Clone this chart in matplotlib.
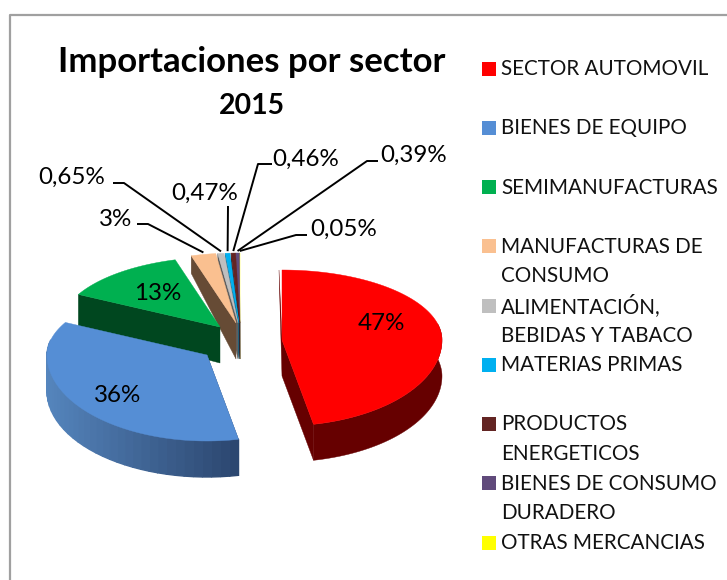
import numpy as np
import matplotlib
matplotlib.use('Agg')
import matplotlib.pyplot as plt
from matplotlib.colors import to_rgb
from matplotlib.patches import Rectangle

plt.rcParams['font.family'] = ['Lato', 'DejaVu Sans']

# datos
sectores = ['SECTOR AUTOMOVIL', 'BIENES DE EQUIPO', 'SEMIMANUFACTURAS',
            'MANUFACTURAS DE\nCONSUMO', 'ALIMENTACIÓN,\nBEBIDAS Y TABACO',
            'MATERIAS PRIMAS', 'PRODUCTOS\nENERGETICOS',
            'BIENES DE CONSUMO\nDURADERO', 'OTRAS MERCANCIAS']
valores = [46.9, 35.9, 12.8, 2.5, 0.65, 0.47, 0.46, 0.39, 0.05]
etiquetas = ['47%', '36%', '13%', '3%', '0,65%', '0,47%', '0,46%', '0,39%', '0,05%']

colores = ['#ff0000', '#558ed5', '#00b050', '#fac090', '#bfbfbf',
           '#00b0f0', '#632523', '#604a7b', '#ffff00']
lados = ['#660000', '#2c4770', '#00471f', '#664b35', '#5f5f5f',
         '#0f5f80', '#3a1514', '#352848', '#888800']

# separacion de cada porcion respecto al centro (px)
sep_x = [44, -31, -18, -2, 0, 1, 2, 2, 2]
sep_y = [10, 25, -3, -7, -7, -7, -7, -7, -7]

CX, CY = 238, 330
RX, RY_ATRAS, RY_FRENTE = 160, 70, 86
ALTO = 36


def punto(t, dx, dy):
    """proyeccion del pastel, mas abierto por delante"""
    s = np.sin(t)
    ry = np.where(s > 0, RY_ATRAS, RY_FRENTE)
    return CX + dx + RX * np.cos(t), CY + dy - ry * s


def alto(t):
    return ALTO - 20 * np.clip(np.sin(t), 0, None) ** 2


fig = plt.figure(figsize=(7.27, 5.8), dpi=100)
ax = fig.add_axes([0, 0, 1, 1])
ax.set_xlim(0, 727)
ax.set_ylim(580, 0)
ax.axis('off')

# marco (el lado derecho queda fuera del recorte)
ax.plot([10, 10, 727], [580, 15, 15], color='#a0a0a0', lw=1.6)

# angulos desde arriba en sentido horario
fin = np.cumsum(valores) / np.sum(valores) * 2 * np.pi
ini = np.r_[0, fin[:-1]]
t0 = np.pi / 2 - ini
t1 = np.pi / 2 - fin


def dibuja_porcion(i):
    dx, dy = sep_x[i], sep_y[i]
    t = np.linspace(t0[i], t1[i], 120)
    x, y = punto(t, dx, dy)
    ax0, ay0 = CX + dx, CY + dy
    d = alto(t)

    # cara de corte inicial (mira hacia la izquierda/delante)
    if i >= 2:
        ax.fill([x[0], ax0, ax0, x[0]], [y[0], ay0, ay0 + ALTO, y[0] + d[0]],
                color=lados[i], lw=0.3)
    # cara de corte final
    if i == 0:
        ax.fill([ax0 - 3, ax0, x[-1], x[-1], ax0],
                [ay0 - 70, ay0, y[-1], y[-1] + d[-1], ay0 + ALTO],
                color=lados[i], lw=0.3)
    if i == 1:
        ax.fill([x[0], x[0], ax0, ax0], [y[0], y[0] + d[0], ay0 + ALTO, ay0],
                color=lados[i], lw=0.3)

    # pared exterior: lisa en la roja, por tiras con degradado en la azul
    vis = np.sin(t) <= 0.25
    if i == 0:
        ax.fill(np.r_[x[vis], x[vis][::-1]], np.r_[y[vis], (y + d)[vis][::-1]],
                color=lados[i], lw=0.3)
    if i == 1:
        c = np.array(to_rgb(lados[i]))
        xs, ys, ds = x[vis][::3], y[vis][::3], d[vis][::3]
        for k in range(len(xs) - 1):
            f = (xs[k] - x.min()) / (x.max() - x.min())
            col = np.array(to_rgb('#5585bd')) * (1 - f) + c * f
            ax.fill([xs[k], xs[k + 1], xs[k + 1], xs[k]],
                    [ys[k], ys[k + 1], ys[k + 1] + ds[k + 1], ys[k] + ds[k]],
                    color=col, lw=1.0)

    # cara superior
    ax.fill(np.r_[ax0, x], np.r_[ay0, y], color=colores[i], lw=0.3)


for i in [8, 7, 6, 5, 4, 3, 2, 1, 0]:
    dibuja_porcion(i)

# titulo
ax.text(252, 62, 'Importaciones por sector', fontsize=25, fontweight='bold',
        ha='center', va='center', color='black')
ax.text(252, 106, '2015', fontsize=20.5, fontweight='bold',
        ha='center', va='center', color='black')

# etiquetas dentro
pos_dentro = [(381, 323), (118, 395), (158, 293)]
for e, (x, y) in zip(etiquetas[:3], pos_dentro):
    ax.text(x, y, e, fontsize=17.4, ha='center', va='center')

# etiquetas con linea guia: texto, codo
pos_fuera = [(116, 219), (72, 177), (205, 193), (306, 159), (414, 155), (344, 229)]
codos = [[(137, 224), (148, 224)], [(113, 183), (124, 183)], [(228, 206)],
         [(272, 164), (258, 164)], [(378, 161), (367, 161)], [(307, 235), (296, 235)]]
for j, i in enumerate(range(3, 9)):
    ax.text(pos_fuera[j][0], pos_fuera[j][1], etiquetas[i], fontsize=17.4,
            ha='center', va='center')
    xm, ym = punto(np.array((t0[i] + t1[i]) / 2), sep_x[i], sep_y[i])
    xs = [p[0] for p in codos[j]] + [float(xm)]
    ys = [p[1] for p in codos[j]] + [float(ym) - 2]
    ax.plot(xs, ys, color='black', lw=1.4, solid_capstyle='butt')

# leyenda
for i, s in enumerate(sectores):
    y = 67.5 + i * 59.25
    ax.add_patch(Rectangle((482, y - 6), 14, 14, color=colores[i], lw=0))
    for n, linea in enumerate(s.split('\n')):
        ax.text(501, y + 1.5 + n * 29.6, linea, fontsize=14.9, ha='left', va='center',
                color='#111111')

fig.savefig('out.png', dpi=100)
